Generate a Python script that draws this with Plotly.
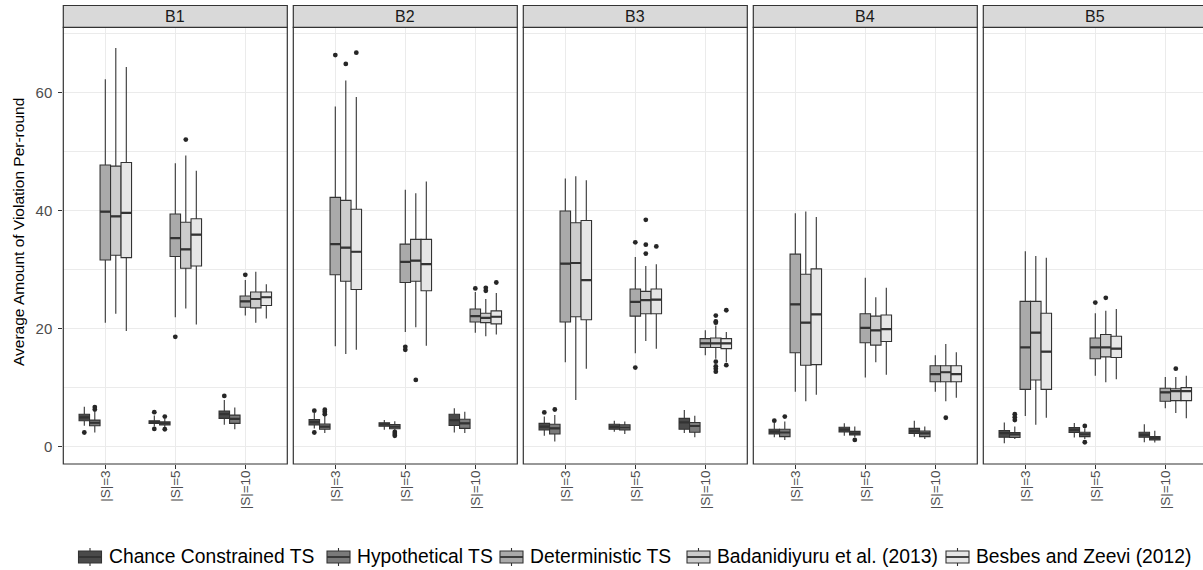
import plotly.graph_objects as go

W, H = 1203, 570

facets = ["B1", "B2", "B3", "B4", "B5"]
sizes = ["|S|=3", "|S|=5", "|S|=10"]
methods = [
    "Chance Constrained TS",
    "Hypothetical TS",
    "Deterministic TS",
    "Badanidiyuru et al. (2013)",
    "Besbes and Zeevi (2012)",
]
fills = ["#4a4a4a", "#7a7a7a", "#aaaaaa", "#cccccc", "#e6e6e6"]

# Box summaries: one row per method, one (lower whisker, q1, median, q3, upper whisker)
# per |S| = 3, 5, 10.  Outliers are listed separately in the same layout.
B1_BOXES = [
    [(3.55, 4.4, 4.95, 5.5, 6.75), (3.4, 3.95, 4.15, 4.4, 5.3), (3.7, 4.8, 5.5, 6.05, 7.9)],
    [(2.4, 3.55, 4.05, 4.5, 5.9), (3.2, 3.7, 3.95, 4.2, 4.7), (2.95, 3.95, 4.7, 5.35, 6.65)],
    [(21.0, 31.6, 39.8, 47.7, 62.2), (21.9, 32.2, 35.3, 39.4, 48.0), (22.2, 23.6, 24.6, 25.5, 28.2)],
    [(22.5, 32.4, 39.0, 47.5, 67.5), (23.4, 30.2, 33.4, 38.0, 49.3), (21.0, 23.5, 25.0, 26.2, 29.6)],
    [(19.6, 32.0, 39.6, 48.1, 64.3), (20.7, 30.6, 35.9, 38.6, 46.7), (21.7, 23.9, 25.3, 26.2, 27.5)],
]
B1_OUTLIERS = [
    [[2.4], [5.85, 3.0], [8.6]],
    [[6.7, 6.3], [5.1, 2.95], []],
    [[], [18.6], [29.1]],
    [[], [52.0], []],
    [[], [], []],
]

B2_BOXES = [
    [(3.1, 3.7, 4.15, 4.6, 5.7), (2.85, 3.45, 3.8, 4.05, 4.5), (2.4, 3.6, 4.5, 5.5, 6.5)],
    [(2.3, 2.95, 3.4, 3.85, 5.2), (2.75, 3.05, 3.4, 3.75, 4.3), (2.3, 3.1, 3.95, 4.65, 5.9)],
    [(17.0, 29.1, 34.3, 42.2, 57.6), (19.4, 27.8, 31.3, 34.3, 43.5), (19.3, 21.1, 22.1, 23.3, 26.2)],
    [(15.7, 28.0, 33.7, 41.7, 62.0), (20.2, 28.0, 31.5, 35.1, 42.9), (18.7, 21.0, 21.8, 22.6, 25.0)],
    [(16.4, 26.6, 33.0, 40.2, 59.2), (17.1, 26.4, 30.9, 35.1, 44.9), (19.0, 20.8, 22.0, 23.0, 26.0)],
]
B2_OUTLIERS = [
    [[6.1, 2.4], [], []],
    [[6.25, 5.9, 5.5], [2.5, 2.15, 1.85], []],
    [[66.3], [16.9, 16.4], [26.8]],
    [[64.8], [11.3], [26.9, 26.4]],
    [[66.7], [], [27.8]],
]

B3_BOXES = [
    [(1.85, 2.85, 3.4, 3.95, 5.1), (2.55, 2.95, 3.35, 3.8, 4.4), (2.3, 2.95, 4.1, 4.8, 6.2)],
    [(0.9, 2.15, 3.1, 3.8, 5.35), (2.15, 2.85, 3.25, 3.7, 4.25), (1.6, 2.45, 3.5, 4.1, 5.25)],
    [(14.3, 21.1, 31.0, 39.9, 45.4), (15.8, 22.1, 24.5, 26.7, 32.1), (15.5, 16.8, 17.5, 18.3, 19.7)],
    [(7.9, 22.0, 31.1, 37.9, 45.8), (17.9, 22.5, 24.8, 26.3, 30.6), (14.9, 16.8, 17.5, 18.4, 20.5)],
    [(13.2, 21.5, 28.2, 38.3, 45.1), (16.6, 22.5, 24.9, 26.7, 30.9), (14.3, 16.6, 17.5, 18.3, 19.4)],
]
B3_OUTLIERS = [
    [[5.8], [], []],
    [[6.3], [], []],
    [[], [34.6, 13.4], []],
    [[], [38.4, 34.2, 32.7], [22.2, 21.2, 21.0, 14.4, 13.6, 13.2, 12.7]],
    [[], [33.9], [23.1, 13.8]],
]

B4_BOXES = [
    [(1.6, 2.15, 2.55, 2.95, 4.05), (1.85, 2.5, 2.9, 3.3, 3.95), (1.7, 2.25, 2.65, 3.1, 4.4)],
    [(1.15, 1.7, 2.4, 2.95, 4.25), (1.6, 2.0, 2.25, 2.6, 3.4), (1.3, 1.7, 2.25, 2.65, 3.4)],
    [(9.3, 15.9, 24.1, 32.6, 39.5), (11.7, 17.6, 20.1, 22.5, 28.6), (9.3, 11.0, 12.3, 13.7, 15.5)],
    [(7.7, 13.8, 21.0, 29.2, 39.8), (14.3, 17.2, 19.7, 22.1, 25.3), (7.7, 11.0, 12.6, 13.7, 17.4)],
    [(8.8, 13.9, 22.4, 30.1, 38.9), (12.2, 17.8, 19.9, 22.3, 26.9), (8.3, 11.0, 12.3, 13.7, 16.0)],
]
B4_OUTLIERS = [
    [[4.4], [], []],
    [[5.1], [1.15], []],
    [[], [], []],
    [[], [], [4.9]],
    [[], [], []],
]

B5_BOXES = [
    [(0.6, 1.6, 2.3, 2.75, 4.1), (1.55, 2.4, 2.85, 3.25, 4.0), (0.75, 1.6, 2.0, 2.45, 3.8)],
    [(1.3, 1.55, 2.1, 2.4, 3.4), (1.3, 1.7, 2.1, 2.45, 3.1), (0.7, 1.15, 1.45, 1.7, 2.7)],
    [(5.2, 9.7, 16.8, 24.6, 33.1), (12.0, 14.9, 16.8, 18.4, 22.6), (6.5, 7.7, 9.2, 9.9, 11.8)],
    [(3.7, 11.3, 19.3, 24.6, 32.3), (10.9, 15.2, 16.8, 19.0, 23.0), (5.7, 7.8, 9.4, 9.8, 11.8)],
    [(4.9, 9.7, 16.1, 22.6, 32.0), (11.4, 15.1, 16.6, 18.7, 23.3), (4.8, 7.8, 9.4, 10.0, 12.0)],
]
B5_OUTLIERS = [
    [[], [], []],
    [[5.5, 5.0, 4.5], [3.5, 0.75], []],
    [[], [24.4], []],
    [[], [25.2], [13.2]],
    [[], [], []],
]

y_ticks = [0, 20, 40, 60]
y_minor = [10, 30, 50, 70]

all_boxes = [B1_BOXES, B2_BOXES, B3_BOXES, B4_BOXES, B5_BOXES]
all_outliers = [B1_OUTLIERS, B2_OUTLIERS, B3_OUTLIERS, B4_OUTLIERS, B5_OUTLIERS]

# ---- page geometry (pixels) ----
PANEL_LEFT, PANEL_PITCH, PANEL_W = 63.3, 230.0, 224.0
PANEL_TOP, PANEL_BOTTOM, STRIP_TOP = 27.3, 464.0, 5.5
PX_PER_CAT = PANEL_W / 3.2
Y_RANGE = [-2.93, 71.0]
DODGE = 0.75
BOX_W = DODGE / len(methods)

FONT = "Liberation Sans, Arial, sans-serif"
EDGE = "#333333"
GRID = "#ebebeb"


def px(x):
    return x / W


def py(y):
    return 1 - y / H


fig = go.Figure()
layout = dict(
    width=W, height=H, autosize=False,
    margin=dict(l=0, r=0, t=0, b=0),
    paper_bgcolor="white", plot_bgcolor="white",
    showlegend=False, boxmode="overlay",
    font=dict(family=FONT, color="#000000"),
)
shapes, annotations = [], []

for f, name in enumerate(facets):
    ax = "" if f == 0 else str(f + 1)
    left = PANEL_LEFT + f * PANEL_PITCH
    right = min(left + PANEL_W, W)
    boxes, outs = all_boxes[f], all_outliers[f]

    for m, meth in enumerate(methods):
        xs = [s + 1 + (m - (len(methods) - 1) / 2) * BOX_W for s in range(len(sizes))]
        lo = [b[0] for b in boxes[m]]
        q1 = [b[1] for b in boxes[m]]
        med = [b[2] for b in boxes[m]]
        q3 = [b[3] for b in boxes[m]]
        hi = [b[4] for b in boxes[m]]
        fig.add_trace(go.Box(
            x=xs, lowerfence=lo, q1=q1, median=med, q3=q3, upperfence=hi,
            width=BOX_W, whiskerwidth=0, boxpoints=False,
            fillcolor=fills[m], line=dict(color=EDGE, width=1.1),
            name=meth, xaxis="x" + ax, yaxis="y" + ax, hoverinfo="skip",
        ))
        # heavier median bar drawn on top of each box
        fig.add_trace(go.Box(
            x=xs, lowerfence=med, q1=med, median=med, q3=med, upperfence=med,
            width=BOX_W, whiskerwidth=0, boxpoints=False,
            fillcolor="rgba(0,0,0,0)", line=dict(color=EDGE, width=2.2),
            name=meth, xaxis="x" + ax, yaxis="y" + ax, hoverinfo="skip",
        ))
        ox, oy = [], []
        for s, vals in enumerate(outs[m]):
            ox += [xs[s]] * len(vals)
            oy += vals
        if oy:
            fig.add_trace(go.Scatter(
                x=ox, y=oy, mode="markers",
                marker=dict(color="#262626", size=4.8, line=dict(width=0)),
                xaxis="x" + ax, yaxis="y" + ax, hoverinfo="skip",
            ))

    layout["xaxis" + ax] = dict(
        domain=[px(left), px(right)], anchor="y" + ax,
        range=[0.4, 0.4 + (right - left) / PX_PER_CAT],
        tickmode="array", tickvals=[1, 2, 3], ticktext=sizes,
        tickangle=-90, tickfont=dict(family=FONT, size=13.5, color="#4d4d4d"),
        ticks="outside", ticklen=4, tickwidth=1.1, tickcolor=EDGE,
        ticklabelstandoff=-4,
        showgrid=True, gridcolor=GRID, gridwidth=1.2,
        zeroline=False, showline=False, fixedrange=True,
    )
    layout["yaxis" + ax] = dict(
        domain=[py(PANEL_BOTTOM), py(PANEL_TOP)], anchor="x" + ax,
        range=Y_RANGE, tickmode="array", tickvals=y_ticks,
        showticklabels=(f == 0),
        tickfont=dict(family=FONT, size=15, color="#4d4d4d"),
        ticks="outside" if f == 0 else "", ticklen=4, tickwidth=1.1, tickcolor=EDGE,
        ticklabelstandoff=3,
        showgrid=True, gridcolor=GRID, gridwidth=1.2,
        minor=dict(tickmode="array", tickvals=y_minor, showgrid=True,
                   gridcolor=GRID, gridwidth=0.6, ticks=""),
        zeroline=False, showline=False, fixedrange=True,
    )

    full_right = left + PANEL_W
    # panel border
    shapes.append(dict(type="rect", xref="paper", yref="paper",
                       x0=px(left), x1=px(full_right), y0=py(PANEL_BOTTOM), y1=py(PANEL_TOP),
                       line=dict(color=EDGE, width=1.2), fillcolor="rgba(0,0,0,0)", layer="above"))
    # facet strip
    shapes.append(dict(type="rect", xref="paper", yref="paper",
                       x0=px(left), x1=px(full_right), y0=py(PANEL_TOP), y1=py(STRIP_TOP),
                       line=dict(color=EDGE, width=1.2), fillcolor="#d9d9d9", layer="above"))
    annotations.append(dict(text=name, xref="paper", yref="paper",
                            x=px((left + full_right) / 2), y=py((PANEL_TOP + STRIP_TOP) / 2),
                            xanchor="center", yanchor="middle", showarrow=False,
                            font=dict(family=FONT, size=16, color="#1a1a1a")))

# y-axis title
annotations.append(dict(text="Average Amount of Violation Per-round", xref="paper", yref="paper",
                        x=px(19), y=py(232), textangle=-90, xanchor="center", yanchor="middle",
                        showarrow=False, font=dict(family=FONT, size=15.5, color="#000000")))

# legend along the bottom: boxplot key glyph + label for each method
label_x = [107.5, 356, 529, 716, 975]
KEY_W, KEY_GAP = 23, 6
KEY_MID = 557
KEY_HALF = 6
LEG_TEXT_Y = 556
for k, meth in enumerate(methods):
    x0 = label_x[k] - KEY_GAP - KEY_W
    xc = x0 + KEY_W / 2
    shapes.append(dict(type="line", xref="paper", yref="paper",
                       x0=px(xc), x1=px(xc), y0=py(KEY_MID - KEY_HALF - 3), y1=py(KEY_MID + KEY_HALF + 3),
                       line=dict(color=EDGE, width=1.1)))
    shapes.append(dict(type="rect", xref="paper", yref="paper",
                       x0=px(x0), x1=px(x0 + KEY_W), y0=py(KEY_MID + KEY_HALF), y1=py(KEY_MID - KEY_HALF),
                       line=dict(color=EDGE, width=1.1), fillcolor=fills[k]))
    shapes.append(dict(type="line", xref="paper", yref="paper",
                       x0=px(x0), x1=px(x0 + KEY_W), y0=py(KEY_MID), y1=py(KEY_MID),
                       line=dict(color=EDGE, width=1.8)))
    annotations.append(dict(text=meth, xref="paper", yref="paper",
                            x=px(label_x[k] - 1), y=py(LEG_TEXT_Y), xanchor="left", yanchor="middle",
                            showarrow=False, font=dict(family=FONT, size=19.3, color="#000000")))

layout["shapes"] = shapes
layout["annotations"] = annotations
fig.update_layout(**layout)
fig.write_html("out.html")
